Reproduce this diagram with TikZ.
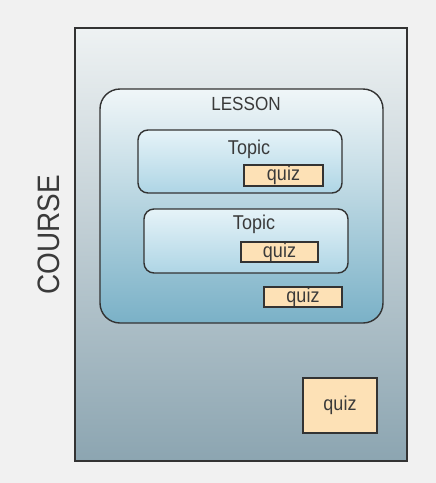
\documentclass[tikz,border=0pt]{standalone}
\usepackage{fontspec}
\setmainfont{Liberation Sans}
\newfontfamily\narrowsans[FakeStretch=0.9]{Liberation Sans}
\usepackage{tikz}
\usetikzlibrary{positioning, backgrounds}

\definecolor{pagegray}{HTML}{F1F1F1}
\definecolor{edgegray}{HTML}{333333}
\definecolor{textgray}{HTML}{3A3A3A}
\definecolor{coursetop}{HTML}{EEF2F3}
\definecolor{coursebot}{HTML}{8CA5B1}
\definecolor{lessontop}{HTML}{F0F6F8}
\definecolor{lessonbot}{HTML}{7AB1C7}
\definecolor{topictop}{HTML}{E6F3F8}
\definecolor{topicbot}{HTML}{AED5E5}
\definecolor{quizfill}{HTML}{FDE1B6}

\begin{document}
\begin{tikzpicture}[x=1pt, y=-1pt, every node/.style={inner sep=0pt, outer sep=0pt}]
\def\boxline{1.4pt}

\tikzstyle{course box}=[draw=edgegray, line width=\boxline, top color=coursetop, bottom color=coursebot]
\tikzstyle{lesson box}=[draw=edgegray, line width=\boxline, rounded corners=20pt, top color=lessontop, bottom color=lessonbot]
\tikzstyle{topic box}=[draw=edgegray, line width=\boxline, rounded corners=10pt, top color=topictop, bottom color=topicbot]
\tikzstyle{quiz box}=[draw=edgegray, line width=\boxline, fill=quizfill, text=textgray, font=\narrowsans\fontsize{20}{20}\selectfont]
\tikzstyle{label}=[text=textgray, anchor=base, font=\narrowsans\fontsize{20}{20}\selectfont]

% Hintergrund
\useasboundingbox[fill=pagegray] (0,0) rectangle (436,483);

% Kurs
\node[course box, minimum width=332pt, minimum height=433pt] (course) at (241,244.5) {};
\node[text=textgray, rotate=90, font=\narrowsans\fontsize{31}{31}\selectfont] (coursename) at (48.5,235) {COURSE};

% Lektion
\node[lesson box, minimum width=283pt, minimum height=234pt] (lesson) at (241.5,206) {};
\node[label, font=\narrowsans\fontsize{19}{19}\selectfont] (lessonname) at (246,110) {LESSON};

% Themen
\node[topic box, minimum width=204pt, minimum height=63pt] (T1) at (240,161.5) {};
\node[label] (T1name) at (249,154) {Topic};

\node[topic box, minimum width=204pt, minimum height=64pt] (T2) at (246,241) {};
\node[label] (T2name) at (254,229) {Topic};

% Quiz
\node[quiz box, minimum width=79pt, minimum height=21pt] (Q1) at (283.5,175.5) {quiz};
\node[quiz box, minimum width=77pt, minimum height=20pt] (Q2) at (279.5,252) {quiz};
\node[quiz box, minimum width=78pt, minimum height=20pt] (Q3) at (303,297) {quiz};
\node[quiz box, minimum width=74pt, minimum height=55pt] (Q4) at (340,405.5) {quiz};

\end{tikzpicture}
\end{document}
